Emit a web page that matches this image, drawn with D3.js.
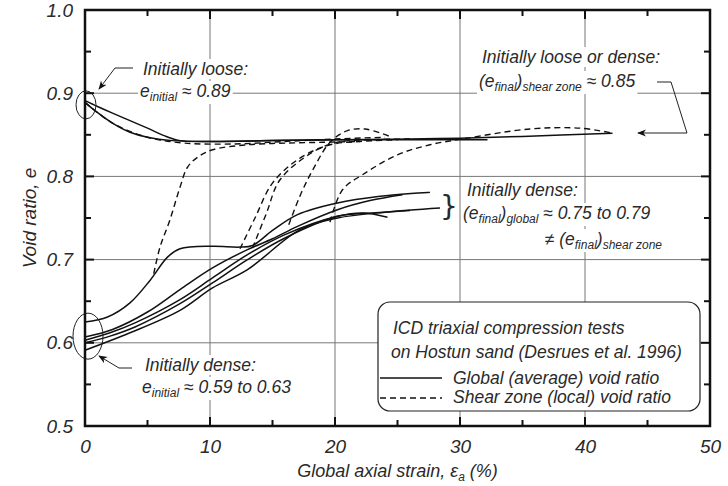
<!DOCTYPE html>
<html>
<head>
<meta charset="utf-8">
<script src="https://cdn.jsdelivr.net/npm/d3@7"></script>
<style>
  body { margin: 0; background: #fff; }
  text { font-family: "Liberation Sans", Arial, sans-serif; font-style: italic; fill: #2a2a2a; }
</style>
</head>
<body>
<div id="chart"></div>
<script>
// --- data: [axial strain %, void ratio] ---
const xTicks = [0, 10, 20, 30, 40, 50];
const yTicks = [0.5, 0.6, 0.7, 0.8, 0.9, 1.0];
const xMinor = [5, 15, 25, 35, 45];
const yMinor = [0.55, 0.65, 0.75, 0.85, 0.95];

// global (average) void ratio, initially loose
const looseA = [[0, 0.891], [1, 0.884], [2.2, 0.876], [3.6, 0.867], [5, 0.858], [6.5, 0.848], [7.6, 0.843], [10, 0.842], [15, 0.843], [20, 0.844], [26, 0.844], [32.2, 0.844]];
const looseB = [[0, 0.889], [0.8, 0.879], [2.2, 0.864], [3.6, 0.853], [5, 0.847], [7, 0.843], [10, 0.842], [15, 0.843], [20, 0.844], [26, 0.845], [30, 0.846], [35, 0.848], [42.2, 0.852]];
// global (average) void ratio, initially dense
const denseA = [[0, 0.625], [1.8, 0.631], [3.6, 0.648], [5.2, 0.675], [6.6, 0.703], [7.6, 0.713], [10.2, 0.716], [12.4, 0.715], [13.4, 0.717], [15, 0.735], [17, 0.754], [20.2, 0.768], [23.6, 0.776], [27.6, 0.781]];
const denseB = [[0, 0.607], [2.2, 0.616], [5, 0.637], [7.6, 0.664], [10.2, 0.69], [13, 0.712], [15, 0.725], [17, 0.74], [20.2, 0.76], [22.8, 0.771], [25.4, 0.778]];
const denseC = [[0, 0.600], [2, 0.608], [4, 0.619], [7.6, 0.647], [10.2, 0.672], [13, 0.7], [16, 0.726], [20.2, 0.752], [23, 0.756], [26, 0.759]];
const denseD = [[0, 0.603], [2, 0.612], [4, 0.624], [7.6, 0.652], [10.2, 0.678], [13, 0.706], [16, 0.73], [20.2, 0.752], [22.2, 0.756], [24.2, 0.751]];
const denseE = [[0, 0.591], [3.6, 0.612], [7.6, 0.639], [10.2, 0.666], [13, 0.688], [17.2, 0.736], [20.2, 0.75], [24, 0.757], [28.4, 0.762]];

// shear zone (local) void ratio
const shearLoose = [[0, 0.889], [2.2, 0.864], [5, 0.847], [8, 0.840], [12, 0.839], [16, 0.842], [20, 0.845], [24, 0.847]];
const shearA = [[5.5, 0.683], [6.0, 0.715], [6.8, 0.748], [7.6, 0.787], [8.2, 0.811], [9.0, 0.823], [10.2, 0.832], [13, 0.838], [16, 0.84], [19, 0.841], [22, 0.842]];
const shearB = [[12.4, 0.713], [13.6, 0.75], [15, 0.792], [17.2, 0.822], [19.6, 0.838], [22, 0.842], [25, 0.844]];
const shearC = [[13.4, 0.714], [14.5, 0.755], [15.6, 0.796], [18.2, 0.829], [20.2, 0.841], [23, 0.844], [26, 0.845]];
const shearD = [[16.3, 0.742], [17.3, 0.78], [18.3, 0.81], [19.6, 0.841], [21, 0.855], [22.4, 0.857], [24.4, 0.848]];
const shearE = [[19.6, 0.745], [20.6, 0.784], [22.2, 0.802], [25, 0.826], [27.6, 0.838], [30.6, 0.846], [35.6, 0.857], [39.6, 0.858], [42.2, 0.852]];

const globalCurves = [looseA, looseB, denseA, denseB, denseC, denseD, denseE];
const shearCurves = [shearLoose, shearA, shearB, shearC, shearD, shearE];

// --- layout ---
const W = 728, H = 486;
const margin = { top: 10, right: 18, bottom: 60, left: 85 };
const width = W - margin.left - margin.right;
const height = H - margin.top - margin.bottom;
const FS = "17.5px";

const svg = d3.select("#chart").append("svg")
  .attr("width", W).attr("height", H);
const g = svg.append("g").attr("transform", `translate(${margin.left},${margin.top})`);

const x = d3.scaleLinear().domain([0, 50]).range([0, width]);
const y = d3.scaleLinear().domain([0.5, 1.0]).range([height, 0]);

// grid
g.append("g").selectAll("line").data(xTicks.slice(1, -1)).join("line")
  .attr("x1", d => x(d)).attr("x2", d => x(d)).attr("y1", 0).attr("y2", height)
  .attr("stroke", "#777").attr("stroke-width", 1);
g.append("g").selectAll("line").data(yTicks.slice(1, -1)).join("line")
  .attr("y1", d => y(d)).attr("y2", d => y(d)).attr("x1", 0).attr("x2", width)
  .attr("stroke", "#777").attr("stroke-width", 1);

// curves
const line = d3.line().x(d => x(d[0])).y(d => y(d[1])).curve(d3.curveCatmullRom.alpha(0.5));
g.append("g").selectAll("path").data(globalCurves).join("path")
  .attr("d", line).attr("fill", "none").attr("stroke", "#111").attr("stroke-width", 1.5);
g.append("g").selectAll("path").data(shearCurves).join("path")
  .attr("d", line).attr("fill", "none").attr("stroke", "#111").attr("stroke-width", 1.4)
  .attr("stroke-dasharray", "6,4");

// annotation layer: text with white boxes behind
const ann = g.append("g");
function label(px, py, parts, anchor) {
  const grp = ann.append("g");
  const t = grp.append("text").attr("x", px).attr("y", py)
    .attr("text-anchor", anchor || "start").style("font-size", FS);
  let shift = 0;
  parts.forEach(p => {
    const s = t.append("tspan").text(p[0]);
    if (p[1] === "sub") {
      s.style("font-size", "12px").attr("dy", 4 - shift);
      shift = 4;
    } else {
      s.attr("dy", -shift);
      shift = 0;
    }
  });
  const b = t.node().getBBox();
  grp.insert("rect", "text").attr("x", b.x - 2).attr("y", b.y).attr("width", b.width + 4)
    .attr("height", b.height).attr("fill", "#fff");
  return t;
}

// initially loose (left)
label(58, 65, [["Initially loose:"]]);
label(55, 87, [["e"], ["initial", "sub"], [" ≈ 0.89"]]);
ann.append("ellipse").attr("cx", x(0) + 1).attr("cy", y(0.886)).attr("rx", 10).attr("ry", 14)
  .attr("fill", "none").attr("stroke", "#222").attr("stroke-width", 1);

// initially dense (left)
label(60, 361, [["Initially dense:"]]);
label(57, 383, [["e"], ["initial", "sub"], [" ≈ 0.59 to 0.63"]]);
ann.append("ellipse").attr("cx", x(0) + 3).attr("cy", y(0.608)).attr("rx", 15).attr("ry", 23)
  .attr("fill", "none").attr("stroke", "#222").attr("stroke-width", 1);

// initially loose or dense (right)
label(397, 53, [["Initially loose or dense:"]]);
label(394, 77, [["(e"], ["final", "sub"], [")"], ["shear zone", "sub"], [" ≈ 0.85"]]);

// initially dense (right)
label(382, 186, [["Initially dense:"]]);
label(378, 209, [["(e"], ["final", "sub"], [")"], ["global", "sub"], [" ≈ 0.75 to 0.79"]]);
label(577, 235, [["≠ (e"], ["final", "sub"], [")"], ["shear zone", "sub"]], "end");

// bracket
ann.append("text").attr("x", 355).attr("y", 206).style("font-size", "28px")
  .style("font-style", "normal").style("font-family", "DejaVu Sans").text("}");

// leaders and arrows
const defs = svg.append("defs");
defs.append("marker").attr("id", "arr").attr("viewBox", "0 0 10 10").attr("refX", 9).attr("refY", 5)
  .attr("markerWidth", 9).attr("markerHeight", 9).attr("orient", "auto-start-reverse")
  .append("path").attr("d", "M0,1 L10,5 L0,9 L3,5 Z").attr("fill", "#111");

ann.append("path").attr("d", "M48,58 L30,58 L14,79")
  .attr("fill", "none").attr("stroke", "#222").attr("stroke-width", 1).attr("marker-end", "url(#arr)");
ann.append("path").attr("d", "M47,358 L34,358 L14,346")
  .attr("fill", "none").attr("stroke", "#222").attr("stroke-width", 1).attr("marker-end", "url(#arr)");
ann.append("path").attr("d", "M572,72 L586,72 L602,123 L553,123")
  .attr("fill", "none").attr("stroke", "#222").attr("stroke-width", 1).attr("marker-end", "url(#arr)");

// legend box
const lg = g.append("g").attr("transform", "translate(293,292)");
lg.append("rect").attr("width", 322).attr("height", 109).attr("rx", 12)
  .attr("fill", "#fff").attr("stroke", "#222").attr("stroke-width", 1.2);
lg.append("text").attr("x", 15).attr("y", 32).style("font-size", FS).text("ICD triaxial compression tests");
lg.append("text").attr("x", 13).attr("y", 56).style("font-size", FS).text("on Hostun sand (Desrues et al. 1996)");
lg.append("line").attr("x1", 2).attr("x2", 64).attr("y1", 76).attr("y2", 76)
  .attr("stroke", "#111").attr("stroke-width", 1.3);
lg.append("text").attr("x", 75).attr("y", 82).style("font-size", FS).text("Global (average) void ratio");
lg.append("line").attr("x1", 2).attr("x2", 64).attr("y1", 96).attr("y2", 96)
  .attr("stroke", "#111").attr("stroke-width", 1.3).attr("stroke-dasharray", "6,4");
lg.append("text").attr("x", 75).attr("y", 101).style("font-size", FS).text("Shear zone (local) void ratio");

// frame and ticks
g.append("rect").attr("width", width).attr("height", height)
  .attr("fill", "none").attr("stroke", "#111").attr("stroke-width", 2.5);

const tk = g.append("g").attr("stroke", "#111").attr("stroke-width", 2);
xTicks.concat(xMinor).forEach(v => {
  const L = xMinor.includes(v) ? 6 : 9;
  tk.append("line").attr("x1", x(v)).attr("x2", x(v)).attr("y1", height).attr("y2", height - L);
  tk.append("line").attr("x1", x(v)).attr("x2", x(v)).attr("y1", 0).attr("y2", L);
});
yTicks.concat(yMinor).forEach(v => {
  const L = yMinor.includes(v) ? 6 : 9;
  tk.append("line").attr("y1", y(v)).attr("y2", y(v)).attr("x1", 0).attr("x2", L);
  tk.append("line").attr("y1", y(v)).attr("y2", y(v)).attr("x1", width).attr("x2", width - L);
});

// tick labels via axes
const xAxis = g.append("g").attr("transform", `translate(0,${height})`)
  .call(d3.axisBottom(x).tickValues(xTicks).tickSize(0).tickPadding(14));
const yAxis = g.append("g")
  .call(d3.axisLeft(y).tickValues(yTicks).tickSize(0).tickPadding(12).tickFormat(d3.format(".1f")));
[xAxis, yAxis].forEach(a => {
  a.select(".domain").remove();
  a.selectAll("text").style("font-size", "19px").style("font-family", "Liberation Sans, Arial, sans-serif")
    .style("font-style", "italic").attr("fill", "#444");
});

// axis titles
const xt = svg.append("text").attr("x", margin.left + width / 2).attr("y", 477)
  .attr("text-anchor", "middle").style("font-size", "18px").attr("fill", "#444");
xt.append("tspan").text("Global axial strain, ε");
xt.append("tspan").text("a").style("font-size", "12px").attr("dy", 4);
xt.append("tspan").text(" (%)").attr("dy", -4);

svg.append("text").attr("transform", `translate(36,${margin.top + height / 2}) rotate(-90)`)
  .attr("text-anchor", "middle").style("font-size", "19px").attr("fill", "#444").text("Void ratio, e");
</script>
</body>
</html>
